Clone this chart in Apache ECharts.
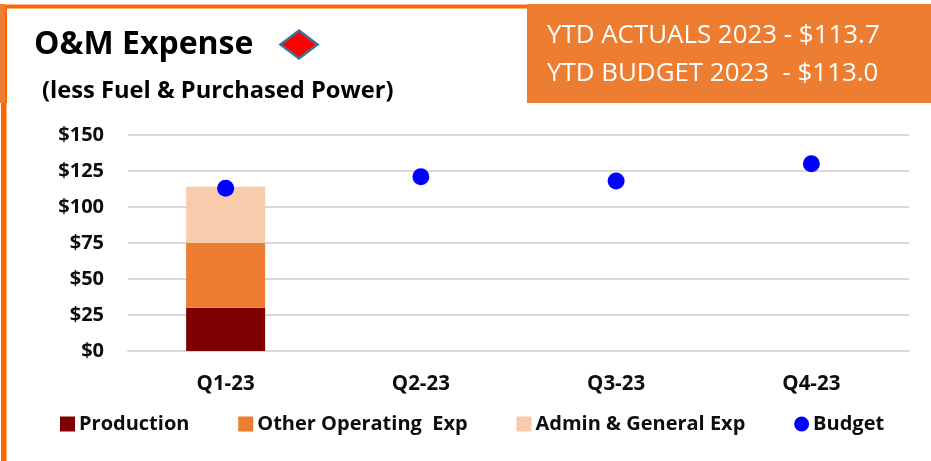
<!DOCTYPE html>
<html><head><meta charset="utf-8">
<style>html,body{margin:0;padding:0;background:#fff}#c{width:931px;height:461px}</style>
<script src="https://cdn.jsdelivr.net/npm/echarts@6/dist/echarts.min.js"></script></head>
<body><div id="c"></div>
<script>
const categories = ['Q1-23','Q2-23','Q3-23','Q4-23'];
const production = [30,null,null,null];
const otherOperating = [45,null,null,null];
const adminGeneral = [39,null,null,null];
const budget = [113,121,118,130];
const yTicks = {min:0,max:150,interval:25};
const font = '"Open Sans","Noto Sans",sans-serif';
const chart = echarts.init(document.getElementById('c'),null,{renderer:'canvas'});
const bar = (name,data,color)=>({name,type:'bar',stack:'a',data,barWidth:79,itemStyle:{color}});
chart.setOption({
  animation:false,
  grid:{left:128,right:22,top:135,bottom:110,containLabel:false},
  xAxis:{type:'category',data:categories,axisLine:{lineStyle:{color:'#D9D9D9',width:2}},axisTick:{show:false},
    axisLabel:{color:'#0D0D0D',fontFamily:font,fontWeight:'bold',fontSize:20.5,margin:23}},
  yAxis:{type:'value',min:yTicks.min,max:yTicks.max,interval:yTicks.interval,axisLine:{show:false},axisTick:{show:false},
    splitLine:{lineStyle:{color:'#D9D9D9',width:2}},
    axisLabel:{color:'#0D0D0D',fontFamily:font,fontWeight:'bold',fontSize:20,margin:24,formatter:v=>'$'+v}},
  legend:{left:55,top:409,itemWidth:15,itemHeight:15,itemGap:48.8,
    textStyle:{color:'#0D0D0D',fontFamily:font,fontWeight:'bold',fontSize:20,padding:[0,0,0,-1]},
    data:[{name:'Production',icon:'rect'},{name:'Other Operating  Exp',icon:'rect'},{name:'Admin & General Exp',icon:'rect'},{name:'Budget',icon:'circle'}]},
  series:[
    bar('Production',production,'#7F0000'),
    bar('Other Operating  Exp',otherOperating,'#ED7D31'),
    bar('Admin & General Exp',adminGeneral,'#F8CBAD'),
    {name:'Budget',type:'line',data:budget,symbol:'circle',symbolSize:17,lineStyle:{width:0,opacity:0},itemStyle:{color:'#0000FF'},z:5}
  ],
  graphic:[
    {type:'rect',shape:{x:0,y:4,width:931,height:1},style:{fill:'#F8B48A'},silent:true},
    {type:'rect',shape:{x:0,y:5,width:527,height:3.5},style:{fill:'#FF6600'},silent:true},
    {type:'rect',shape:{x:0,y:4,width:5,height:99},style:{fill:'#ED7D31'},silent:true},
    {type:'rect',shape:{x:5,y:8,width:2,height:95},style:{fill:'#FF6600'},silent:true},
    {type:'rect',shape:{x:1,y:103,width:5.5,height:358},style:{fill:'#FF6600'},silent:true},
    {type:'rect',shape:{x:527,y:4,width:404,height:99},style:{fill:'#ED7D31'},silent:true},
    {type:'text',x:34,y:21,style:{text:'O&M Expense',fill:'#000',font:'bold 32px '+font}},
    {type:'polygon',shape:{points:[[299,30.5],[317.5,44.5],[299,58.5],[280.5,44.5]]},style:{fill:'#FF0000',stroke:'#41719C',lineWidth:2.5}},
    {type:'text',x:42,y:73,style:{text:'(less Fuel & Purchased Power)',fill:'#000',font:'bold 23.7px '+font}},
    {type:'text',x:547,y:17,style:{text:'YTD ACTUALS 2023 - $113.7',fill:'#fff',font:'25.9px '+font}},
    {type:'text',x:547,y:54,style:{text:'YTD BUDGET 2023  - $113.0',fill:'#fff',font:'25.9px '+font}}
  ].map(g=>{
    if(g.type!=='text') return g;
    const dy = {'O&M Expense':8,'(less Fuel & Purchased Power)':6,'YTD ACTUALS 2023 - $113.7':6,'YTD BUDGET 2023  - $113.0':7}[g.style.text];
    return {...g,y:g.y+dy};
  })
});
</script></body></html>
